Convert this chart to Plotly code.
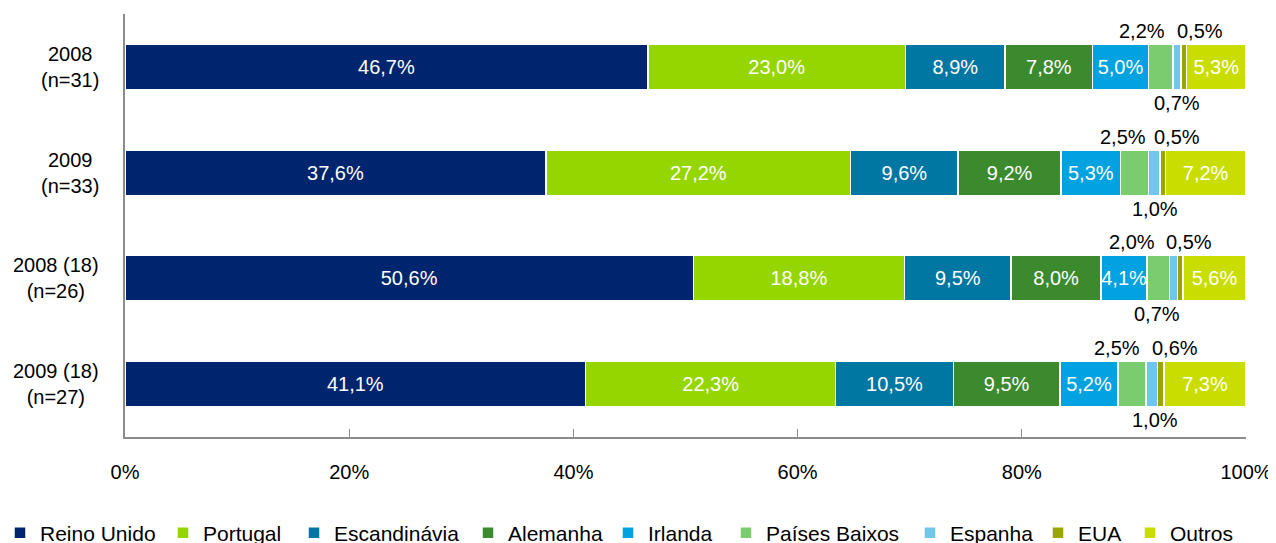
import plotly.graph_objects as go

categories = ["2008<br>(n=31)", "2009<br>(n=33)", "2008 (18)<br>(n=26)", "2009 (18)<br>(n=27)"]
series_names = ["Reino Unido", "Portugal", "Escandinávia", "Alemanha", "Irlanda",
                "Países Baixos", "Espanha", "EUA", "Outros"]

reino_unido = [46.7, 37.6, 50.6, 41.1]
portugal = [23.0, 27.2, 18.8, 22.3]
escandinavia = [8.9, 9.6, 9.5, 10.5]
alemanha = [7.8, 9.2, 8.0, 9.5]
irlanda = [5.0, 5.3, 4.1, 5.2]
paises_baixos = [2.2, 2.5, 2.0, 2.5]
espanha = [0.7, 1.0, 0.7, 1.0]
eua = [0.5, 0.5, 0.5, 0.6]
outros = [5.3, 7.2, 5.6, 7.3]

x_ticks = [0, 20, 40, 60, 80, 100]
x_tick_labels = ["0%", "20%", "40%", "60%", "80%", "100%"]

values = [reino_unido, portugal, escandinavia, alemanha, irlanda,
          paises_baixos, espanha, eua, outros]
colors = ["#00256F", "#95D600", "#0077A3", "#3C8A2E", "#00A3E0",
          "#7ACC6E", "#71C7EA", "#9AA500", "#CADD00"]

# layout: legend entry marker centres (px from the left of the window)
LEGEND_MARKER_X = [31, 198, 329, 503, 643, 761, 945, 1073, 1165]
LEGEND_OFFSET = 25  # approx px between legend box left edge and marker centre
W, H = 1276, 543

# series whose labels sit outside the bar: (series index, above?, x pixel offsets per row)
outside = {
    5: (True, [-19, -12, -26, -15]),
    6: (False, [0, 1, -17, 3]),
    7: (True, [16, 14, 9, 14]),
}

FONT = "Liberation Sans, Arial, sans-serif"
FS = 20


def fmt(v):
    return f"{v:.1f}".replace(".", ",") + "%"


fig = go.Figure()
legend_layouts = {}
for i, (name, vals, col) in enumerate(zip(series_names, values, colors)):
    inside = i not in outside
    lname = "legend" if i == 0 else f"legend{i + 1}"
    fig.add_trace(go.Bar(
        y=categories, x=vals, name=name, orientation="h",
        legend=lname,
        marker=dict(color=col, line=dict(color="white", width=1.5)),
        text=[fmt(v) for v in vals] if inside else None,
        textposition="inside" if inside else "none",
        insidetextanchor="middle", textangle=0,
        textfont=dict(color="white", size=FS, family=FONT),
        hoverinfo="name+x",
    ))
    lx = (LEGEND_MARKER_X[i] - 10 - 8 - LEGEND_OFFSET) / W
    legend_layouts[lname] = dict(
        orientation="h", xref="container", yref="container",
        x=max(lx, 0), xanchor="left",
        y=1 - (533 - 8) / H, yanchor="middle",
        font=dict(size=21, family=FONT), itemwidth=30,
        indentation=-8 if lx < 0 else 0,
        bgcolor="rgba(0,0,0,0)",
    )

# outside labels for the thin segments, positioned from the cumulative data
for r, cat in enumerate(categories):
    total = sum(v[r] for v in values)
    cum = 0.0
    for i, vals in enumerate(values):
        start = cum
        cum += vals[r]
        if i in outside:
            above, offs = outside[i]
            mid = (start + vals[r] / 2) / total * 100
            fig.add_annotation(
                x=mid, y=cat, xref="x", yref="y", text=fmt(vals[r]),
                showarrow=False, xshift=offs[r], yshift=36 if above else -36,
                font=dict(size=FS, color="black", family=FONT),
                xanchor="center", yanchor="middle",
            )
    # category label, centered lines, right edge near the axis
    fig.add_annotation(
        x=0, y=cat, xref="paper", yref="y", text=cat, showarrow=False,
        xanchor="right", yanchor="middle", align="center", xshift=-24,
        font=dict(size=FS, color="black", family=FONT),
    )

fig.update_layout(
    barmode="stack", barnorm="percent", bargap=0.57,
    width=W, height=H,
    margin=dict(l=117, r=38, t=6, b=114, autoexpand=False),
    paper_bgcolor="white", plot_bgcolor="white",
    font=dict(family=FONT, size=FS, color="black"),
    separators=",.",
    showlegend=True,
    xaxis=dict(range=[0, 100], tickvals=x_ticks, ticktext=x_tick_labels,
               showgrid=False, zeroline=False, showline=True, linecolor="#8C8C8C",
               linewidth=1.5, ticks="inside", ticklen=8, tickcolor="#8C8C8C",
               ticklabelstandoff=16,
               tickfont=dict(size=FS, family=FONT), fixedrange=True),
    yaxis=dict(categoryorder="array", categoryarray=categories, autorange="reversed",
               showticklabels=False, showgrid=False, zeroline=False, showline=True,
               linecolor="#8C8C8C", linewidth=1.5, ticks="", fixedrange=True),
    uniformtext=dict(minsize=FS, mode="show"),
    **legend_layouts,
)

fig.write_html("out.html")
